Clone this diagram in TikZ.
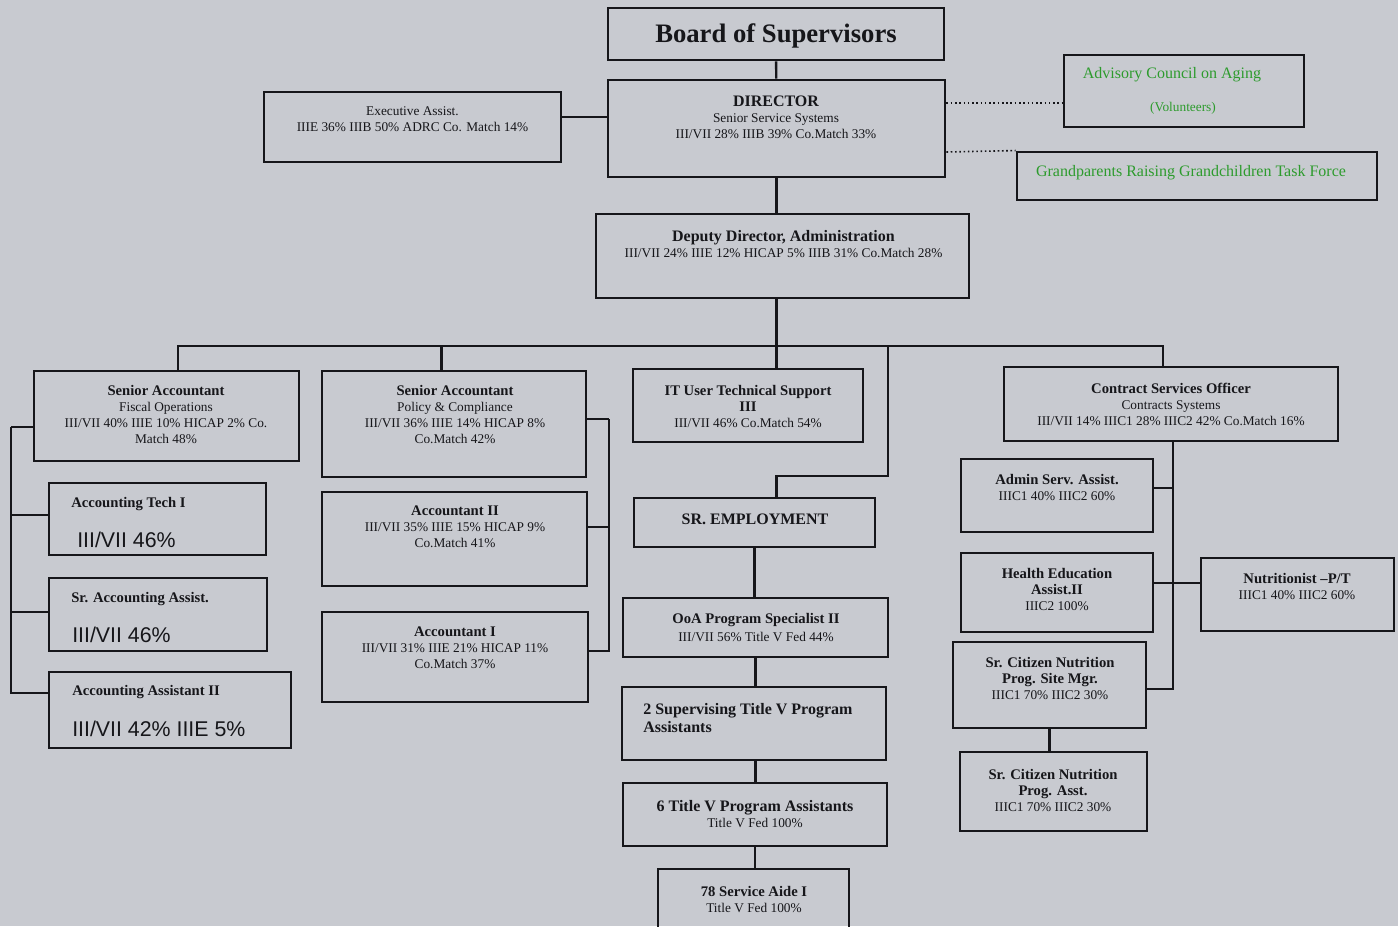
\documentclass[tikz,border=0pt]{standalone}
\usepackage{fontspec}
\setmainfont{Liberation Serif}
\newfontfamily\numsans{Liberation Sans}
\newlength{\px}
\setlength{\px}{0.75pt}
\definecolor{paper}{RGB}{200,202,208}
\definecolor{ink}{RGB}{22,22,26}
\definecolor{council}{RGB}{45,155,45}
\newcommand{\ttl}[1]{{\fontsize{11}{12}\selectfont\bfseries #1}}
\newcommand{\Ttl}[1]{{\fontsize{12}{12}\selectfont\bfseries #1}}
\begin{document}
\begin{tikzpicture}[x=0.75pt, y=-0.75pt,
	post/.style={draw=ink, text=ink, line width=2.2pt, inner sep=0pt},
	lbl/.style={inner sep=0pt, align=center, text=ink, font=\fontsize{10}{12}\selectfont},
	big/.style={lbl, anchor=base west, font=\numsans\fontsize{16}{18}\selectfont},
	link/.style={draw=ink, line width=1.8pt},
	aside/.style={draw=ink, line width=1.2pt, dotted}]
	\fill [paper] (0,0) rectangle (1398,926);
	\useasboundingbox (0,0) rectangle (1398,926);
	\clip (0,0) rectangle (1398,926);
	% top of the chart
	\node [post, minimum width=336\px, minimum height=52\px] (bos) at (776,34) {};
	\node [lbl, font=\fontsize{20}{22}\selectfont\bfseries] (bosT) at (776,36) {Board of Supervisors};
	\node [post, minimum width=337\px, minimum height=97\px] (dir) at (776.5,128.5) {};
	\node [lbl] (dirT) at (776,117) {\Ttl{DIRECTOR}\\Senior Service Systems\\III/VII 28\% IIIB 39\% Co.Match 33\%};
	\node [post, minimum width=297\px, minimum height=70\px] (exec) at (412.5,127) {};
	\node [lbl] (execT) at (412.5,119.5) {Executive Assist.\\IIIE 36\% IIIB 50\% ADRC Co. Match 14\%};
	\node [post, minimum width=240\px, minimum height=72\px] (adv) at (1184,91) {};
	\node [lbl, text=council, font=\fontsize{12}{14}\selectfont] (advT) at (1172,75) {Advisory Council on Aging};
	\node [lbl, text=council] (advS) at (1183,108) {(Volunteers)};
	\node [post, minimum width=360\px, minimum height=48\px] (grg) at (1197,176) {};
	\node [lbl, text=council, font=\fontsize{12}{14}\selectfont] (grgT) at (1191,173) {Grandparents Raising Grandchildren Task Force};
	\node [post, minimum width=373\px, minimum height=84\px] (dep) at (782.5,256) {};
	\node [lbl] (depT) at (783.5,244) {\Ttl{Deputy Director, Administration}\\III/VII 24\% IIIE 12\% HICAP 5\% IIIB 31\% Co.Match 28\%};
	% second row
	\node [post, minimum width=265\px, minimum height=90\px] (sa1) at (166.5,416) {};
	\node [lbl] (sa1T) at (166,414) {\ttl{Senior Accountant}\\Fiscal Operations\\III/VII 40\% IIIE 10\% HICAP 2\% Co.\\Match 48\%};
	\node [post, minimum width=264\px, minimum height=106\px] (sa2) at (454,424) {};
	\node [lbl] (sa2T) at (455,414) {\ttl{Senior Accountant}\\Policy \& Compliance\\III/VII 36\% IIIE 14\% HICAP 8\%\\Co.Match 42\%};
	\node [post, minimum width=230\px, minimum height=73\px] (it) at (748,405.5) {};
	\node [lbl] (itT) at (748,406.5) {\ttl{IT User Technical Support}\\\ttl{III}\\III/VII 46\% Co.Match 54\%};
	\node [post, minimum width=334\px, minimum height=74\px] (cso) at (1171,404) {};
	\node [lbl] (csoT) at (1171,404) {\ttl{Contract Services Officer}\\Contracts Systems\\III/VII 14\% IIIC1 28\% IIIC2 42\% Co.Match 16\%};
	% fiscal staff
	\node [post, minimum width=217\px, minimum height=72\px] (atech) at (157.5,519) {};
	\node [lbl, anchor=base west] (atechT) at (71,507.5) {\ttl{Accounting Tech I}};
	\node [big] (atechP) at (77,547) {III/VII 46\%};
	\node [post, minimum width=218\px, minimum height=73\px] (sracc) at (158,614.5) {};
	\node [lbl, anchor=base west] (sraccT) at (71,602) {\ttl{Sr. Accounting Assist.}};
	\node [big] (sraccP) at (72,642) {III/VII 46\%};
	\node [post, minimum width=242\px, minimum height=76\px] (acc2) at (170,710) {};
	\node [lbl, anchor=base west] (acc2T) at (72,695.5) {\ttl{Accounting Assistant II}};
	\node [big] (acc2P) at (72,736) {III/VII 42\% IIIE 5\%};
	\node [post, minimum width=265\px, minimum height=94\px] (actII) at (454.5,539) {};
	\node [lbl] (actIIT) at (455,527) {\ttl{Accountant II}\\III/VII 35\% IIIE 15\% HICAP 9\%\\Co.Match 41\%};
	\node [post, minimum width=266\px, minimum height=90\px] (actI) at (455,657) {};
	\node [lbl] (actIT) at (455,648) {\ttl{Accountant I}\\III/VII 31\% IIIE 21\% HICAP 11\%\\Co.Match 37\%};
	% senior employment
	\node [post, minimum width=241\px, minimum height=49\px] (sre) at (754.5,522.5) {};
	\node [lbl, font=\fontsize{12}{14}\selectfont\bfseries] (sreT) at (755,519.5) {SR. EMPLOYMENT};
	\node [post, minimum width=265\px, minimum height=59\px] (ooa) at (755.5,627.5) {};
	\node [lbl] (ooaT) at (756,627) {\ttl{OoA Program Specialist II}\\[1.5pt]III/VII 56\% Title V Fed 44\%};
	\node [post, minimum width=264\px, minimum height=73\px] (sup2) at (754,723.5) {};
	\node [lbl, anchor=west, align=left, font=\fontsize{12}{14}\selectfont\bfseries] (sup2T) at (643,718) {2 Supervising Title V Program\\Assistants};
	\node [post, minimum width=264\px, minimum height=63\px] (tv6) at (755,814.5) {};
	\node [lbl] (tv6T) at (755,814.5) {\Ttl{6 Title V Program Assistants}\\Title V Fed 100\%};
	\node [post, minimum width=191\px, minimum height=80\px] (aide) at (753.5,909) {};
	\node [lbl] (aideT) at (754,899) {\ttl{78 Service Aide I}\\Title V Fed 100\%};
	% nutrition and contracts
	\node [post, minimum width=192\px, minimum height=73\px] (adm) at (1057,495.5) {};
	\node [lbl] (admT) at (1057,487.5) {\ttl{Admin Serv. Assist.}\\IIIC1 40\% IIIC2 60\%};
	\node [post, minimum width=192\px, minimum height=79\px] (hed) at (1057,592.5) {};
	\node [lbl] (hedT) at (1057,589) {\ttl{Health Education}\\\ttl{Assist.II}\\IIIC2 100\%};
	\node [post, minimum width=193\px, minimum height=73\px] (nut) at (1297.5,594.5) {};
	\node [lbl] (nutT) at (1297,586.5) {\ttl{Nutritionist –P/T}\\IIIC1 40\% IIIC2 60\%};
	\node [post, minimum width=193\px, minimum height=86\px] (smgr) at (1049.5,685) {};
	\node [lbl] (smgrT) at (1050,678.5) {\ttl{Sr. Citizen Nutrition}\\\ttl{Prog. Site Mgr.}\\IIIC1 70\% IIIC2 30\%};
	\node [post, minimum width=187\px, minimum height=79\px] (passt) at (1053.5,791.5) {};
	\node [lbl] (passtT) at (1053,790) {\ttl{Sr. Citizen Nutrition}\\\ttl{Prog. Asst.}\\IIIC1 70\% IIIC2 30\%};
	% joints of the lines
	\coordinate (bl) at (178,346);
	\coordinate (bm) at (441.5,346);
	\coordinate (bk) at (888,346);
	\coordinate (br) at (1163,346);
	\coordinate (kn) at (888,476);
	\coordinate (lbr) at (11,427);
	\coordinate (rbr) at (609,419);
	\coordinate (sp) at (1173,689);
	% lines
	\draw [link] (bos) -- (dir);
	\draw [link] ([yshift=10\px]exec.east) -- ([yshift=11.5\px]dir.west);
	\draw [aside] ([yshift=25.5\px]dir.east) -- ([yshift=-12\px]adv.west);
	\draw [aside] ([yshift=-23.5\px]dir.east) -- (grg.north west);
	\draw [link] (dir.south) -- (dir.south |- dep.north);
	\draw [link] (dir.south |- dep.south) -- (dir.south |- it.north);
	\draw [link] (bl |- sa1.north) -- (bl) -- (br) -- (br |- cso.north);
	\draw [link] (bm) -- (bm |- sa2.north);
	\draw [link] (bk) -- (kn) -- (kn -| dir.south) -- (dir.south |- sre.north);
	\draw [link] ([yshift=-11\px]sa1.west) -- (lbr);
	\draw [link] ([yshift=4\px]atech.west) -| (lbr);
	\draw [link] ([yshift=2.5\px]sracc.west) -| (lbr);
	\draw [link] ([yshift=17\px]acc2.west) -| (lbr);
	\draw [link] ([yshift=5\px]sa2.east) -- (rbr);
	\draw [link] ([yshift=12\px]actII.east) -| (rbr);
	\draw [link] ([yshift=6\px]actI.east) -| (rbr);
	\draw [link] (sre.south) -- (sre.south |- ooa.north);
	\draw [link] (ooa.south) -- (ooa.south |- sup2.north);
	\draw [link] (ooa.south |- sup2.south) -- (ooa.south |- tv6.north);
	\draw [link] (tv6.south) -- (tv6.south |- aide.north);
	\draw [link] (cso.south -| sp) -- (sp) -- (sp -| smgr.east);
	\draw [link] ([yshift=7.5\px]adm.east) -| (sp);
	\draw [link] ([yshift=9.5\px]hed.east) -- ([yshift=11.5\px]nut.west);
	\draw [link] (smgr.south) -- (smgr.south |- passt.north);
\end{tikzpicture}
\end{document}
